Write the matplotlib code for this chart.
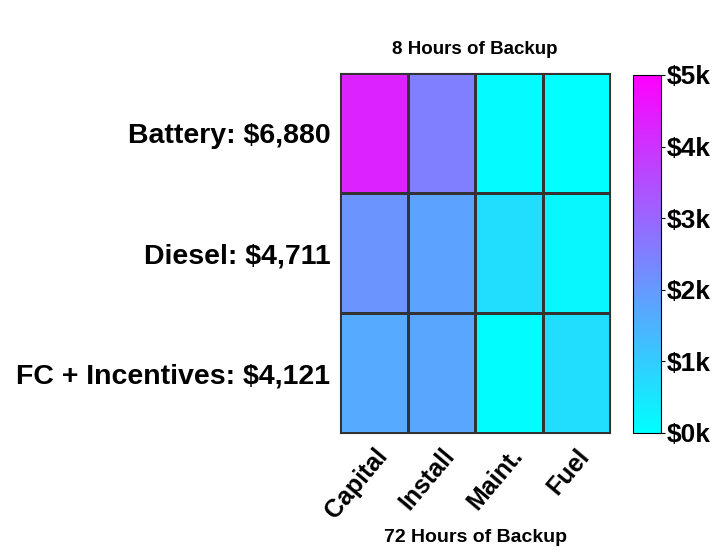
import matplotlib
matplotlib.use('Agg')
import matplotlib.pyplot as plt
import numpy as np

rows = ['Battery: $6,880', 'Diesel: $4,711', 'FC + Incentives: $4,121']
cols = ['Capital', 'Install', 'Maint.', 'Fuel']
battery = [4300, 2500, 80, 0]
diesel = [2100, 1800, 650, 160]
fc = [1650, 1750, 50, 650]
cbar_ticks = [0, 1000, 2000, 3000, 4000, 5000]
cbar_labels = ['$0k', '$1k', '$2k', '$3k', '$4k', '$5k']

plt.rcParams['font.family'] = ['Liberation Sans', 'DejaVu Sans']
plt.rcParams['font.weight'] = 'bold'

data = np.array([battery, diesel, fc])

fig = plt.figure(figsize=(7.16, 5.55), dpi=100)
ax = fig.add_axes([340/716, 1-433/555, 270/716, 360/555])
cax = fig.add_axes([633/716, 1-433/555, 28/716, 358/555])

im = ax.pcolormesh(data, cmap='cool', vmin=0, vmax=5000, edgecolors='#333333', linewidth=1)
ax.set_xlim(0, 4)
ax.set_ylim(3, 0)
ax.set_xticks(np.arange(4) + 0.5)
ax.set_xticklabels(cols, rotation=50, ha='right', rotation_mode='anchor', fontsize=18)
ax.set_yticks(np.arange(3) + 0.5)
ax.set_yticklabels(rows, fontsize=20.5)
ax.tick_params(axis='x', length=0, pad=8)
ax.tick_params(axis='y', length=0, pad=7)
for s in ax.spines.values():
    s.set_color('#333333')
ax.set_title('8 Hours of Backup', fontsize=13.5, fontweight='bold', pad=14)
ax.set_xlabel('72 Hours of Backup', fontsize=14, fontweight='bold', labelpad=4)

cb = fig.colorbar(im, cax=cax)
cb.set_ticks(cbar_ticks)
cb.set_ticklabels(cbar_labels)
cb.ax.tick_params(labelsize=19, length=3, pad=1)
cb.outline.set_linewidth(0.8)

fig.savefig('out.png', dpi=100)
